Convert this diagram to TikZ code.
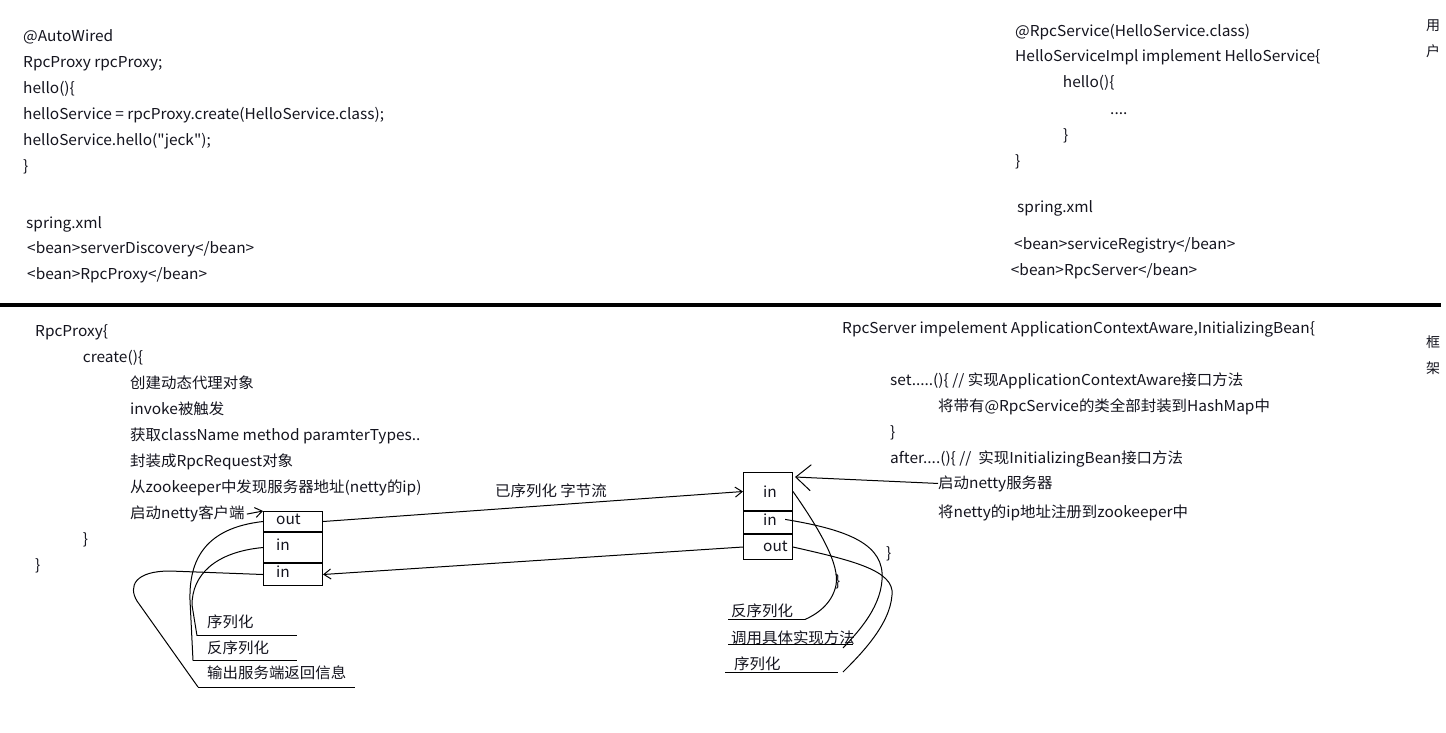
\documentclass[tikz,border=0pt]{standalone}
\usepackage{fontspec}
\setmainfont{Noto Sans CJK SC}
\setmonofont{Noto Sans CJK SC}[FakeStretch = 1.03]
\usetikzlibrary{arrows.meta}
\tikzset{>={Straight Barb[length=7pt,width=10pt]}}
\definecolor{myink}{RGB}{20, 20, 30}

\begin{document}
\begin{tikzpicture}[
    x = 1pt, y = -1pt,
    t0/.style = {anchor = base west, inner sep = 0pt, text = myink, font = \ttfamily\fontsize{15}{18}\selectfont},
    t1/.style = {t0, anchor = mid west},
    c0/.style = {draw, line width = 1, minimum width = #1, anchor = north west, inner sep = 0pt},
    d0/.style = {line width = 1},
    big/.style = {-{Straight Barb[length=15pt,width=26pt]}, line width = 1}
]

\useasboundingbox (0,0) rectangle (1446,732);
\fill[white] (0,0) rectangle (1446,732);

\node[t0] (aw)   at (23, 41.7)  {@AutoWired};
\node[t0] (rp)   at (23, 67.7)  {RpcProxy rpcProxy;};
\node[t0] (hl)   at (23, 93.7)  {hello()\{};
\node[t0] (hs)   at (23, 119.7) {helloService = rpcProxy.create(HelloService.class);};
\node[t0] (hh)   at (23, 145.7) {helloService.hello("jeck");};
\node[t0] (hb)   at (23, 171.7) {\}};
\node[t0] (sx1)  at (26, 228)   {spring.xml};
\node[t0] (sd)   at (27, 253.3) {<bean>serverDiscovery</bean>};
\node[t0] (sp)   at (27, 279)   {<bean>RpcProxy</bean>};

\node[t0] (rs)   at (1015, 36)    {@RpcService(HelloService.class)};
\node[t0] (impl) at (1015, 61.7)  {HelloServiceImpl implement HelloService\{};
\node[t0] (ih)   at (1062.7, 87.3) {hello()\{};
\node[t0] (idot) at (1110, 114)   {....};
\node[t0] (ib1)  at (1063, 140.7) {\}};
\node[t0] (ib2)  at (1015, 166.7) {\}};
\node[t0] (sx2)  at (1017, 212.7) {spring.xml};
\node[t0] (sr)   at (1014, 249.3) {<bean>serviceRegistry</bean>};
\node[t0] (ss)   at (1010.7, 275) {<bean>RpcServer</bean>};

\node[t0, anchor = center, align = center, font = \fontsize{14}{26}\selectfont] (user)  at (1433, 39)  {用\\户};
\node[t0, anchor = center, align = center, font = \fontsize{14}{26}\selectfont] (frame) at (1433, 355) {框\\架};

\draw[line width = 4] (0, 305.3) -- (1441, 305.3);

% client side
\node[t0] (px)  at (35, 336.7)  {RpcProxy\{};
\node[t0] (cr)  at (82.7, 362.7) {create()\{};
\node[t0] (cr1) at (130, 388.7)  {创建动态代理对象};
\node[t0] (cr2) at (130, 414.7)  {invoke被触发};
\node[t0] (cr3) at (130, 440.7)  {获取className method paramterTypes..};
\node[t0] (cr4) at (130, 466.7)  {封装成RpcRequest对象};
\node[t0] (cr5) at (130, 492.7)  {从zookeeper中发现服务器地址(netty的ip)};
\node[t0] (cli) at (130, 518.7)  {启动netty客户端};
\node[t0] (cb1) at (82.7, 544.7) {\}};
\node[t0] (cb2) at (35, 570.7)   {\}};

\node[c0 = 59, minimum height = 20] (lout) at (263, 511) {};
\node[c0 = 59, minimum height = 30] (lin1) at (lout.south west) {};
\node[c0 = 59, minimum height = 22] (lin2) at (lin1.south west) {};
\node[t1] (loutt) at ([xshift = 13pt]lout.west) {out};
\node[t1] (lin1t) at ([xshift = 13pt]lin1.west) {in};
\node[t1] (lin2t) at ([xshift = 13pt]lin2.west) {in};

\node[t0] (lse) at (207, 627) {序列化};
\node[t0] (lde) at (207, 653) {反序列化};
\node[t0] (lre) at (207, 678) {输出服务端返回信息};
\coordinate (sl1) at (197, 635.7);
\coordinate (sl2) at (193, 660.5);
\coordinate (sl3) at (198, 687);
\draw[d0] (sl1) -- ++(100, 0);
\draw[d0] (sl2) -- ++(104, 0);
\draw[d0] (sl3) -- ++(157, 0);

\draw[d0, ->] ([xshift = 2pt]cli.east) -- (lout.north west);
\draw[d0] (lout.west) .. controls (205, 528) and (189, 560) .. (190, 600) -- (sl2);
\draw[d0] (lin1.west) .. controls (215, 552) and (192, 575) .. (192, 605) -- (sl1);
\draw[d0] (lin2.west) -- (170, 571) .. controls (135, 571) and (128, 586) .. (137, 601) -- (sl3);

% server side
\node[c0 = 49, minimum height = 38] (rin1) at (743, 472) {};
\node[c0 = 49, minimum height = 22] (rin2) at (rin1.south west) {};
\node[c0 = 49, minimum height = 25] (rout) at (rin2.south west) {};
\draw[line width = 2.5] (rin1.south west) -- (rin1.south east);
\draw[line width = 2.5] (rin2.south west) -- (rin2.south east);
\node[t1] (rin1t) at ([xshift = 20pt, yshift = -3pt]rin1.west) {in};
\node[t1] (rin2t) at ([xshift = 20pt]rin2.west) {in};
\node[t1] (routt) at ([xshift = 20pt, yshift = -2pt]rout.west) {out};

\node[t0] (bytes) at (495, 496) {已序列化 字节流};
\draw[d0, ->] (lout.east) -- (rin1.west);
\draw[d0, ->] (rout.west) -- (lin2.east);

\node[t0] (srv)  at (842, 333)  {RpcServer impelement ApplicationContextAware,InitializingBean\{};
\node[t0] (set)  at (890, 385)  {set.....()\{ // 实现ApplicationContextAware接口方法};
\node[t0] (map)  at (938, 411)  {将带有@RpcService的类全部封装到HashMap中};
\node[t0] (sb)   at (890, 437)  {\}};
\node[t0] (aft)  at (890, 463)  {after....()\{ //\ \ 实现InitializingBean接口方法};
\node[t0] (nst)  at (938, 488)  {启动netty服务器};
\node[t0] (zk)   at (938, 517)  {将netty的ip地址注册到zookeeper中};
\node[t0] (svb)  at (886, 558)  {\}};
\node[t0] (svb2) at (835, 586)  {\}};

\draw[big] (nst.west) -- ([xshift = 2pt, yshift = -5pt]rin1.north east);

\node[t0] (rde) at (731, 616) {反序列化};
\node[t0] (rca) at (731, 643) {调用具体实现方法};
\node[t0] (rse) at (734, 669) {序列化};
\coordinate (sr1) at (805, 619.5);
\coordinate (sr2) at (843, 648);
\coordinate (sr3) at (843, 672);
\draw[d0] (728, 619.5) -- (sr1);
\draw[d0] (728, 644) -- (853, 644);
\draw[d0] (725, 672) -- (838, 672);

\draw[d0] (rin1.east) .. controls (820, 530) and (840, 565) .. (836, 585) .. controls (832, 605) and (815, 615) .. (sr1);
\draw[d0] ([xshift = 8pt]rin2t.east) .. controls (850, 530) and (885, 545) .. (882, 580) .. controls (880, 610) and (855, 635) .. (sr2);
\draw[d0] (rout.east) .. controls (850, 560) and (895, 570) .. (892, 595) .. controls (890, 625) and (860, 655) .. (sr3);

\end{tikzpicture}
\end{document}
